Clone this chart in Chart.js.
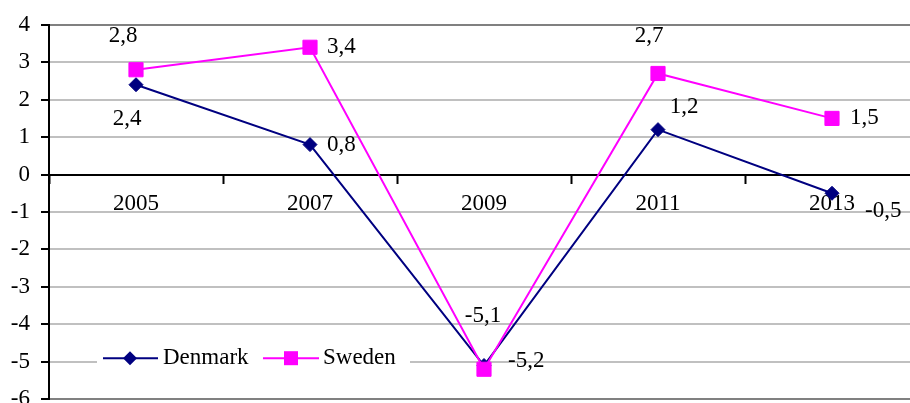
<!DOCTYPE html>
<html>
<head>
<meta charset="utf-8">
<style>
html,body{margin:0;padding:0;background:#fff;overflow:hidden;}
#wrap{width:930px;height:424px;}
</style>
<script src="https://cdn.jsdelivr.net/npm/chart.js@4.4.1/dist/chart.umd.min.js"></script>
</head>
<body>
<div id="wrap"><canvas id="c" width="930" height="424"></canvas></div>
<script>
const categories = ['2005', '2007', '2009', '2011', '2013'];
const denmark = [2.4, 0.8, -5.1, 1.2, -0.5];
const sweden = [2.8, 3.4, -5.2, 2.7, 1.5];
const seriesNames = ['Denmark', 'Sweden'];
const yTicks = [4, 3, 2, 1, 0, -1, -2, -3, -4, -5, -6];

const FONT = '"Liberation Serif", "Times New Roman", serif';
const FS = 23;
const navy = '#000080';
const magenta = '#FF00FF';

// label placement style: [dx, dy, align]
const denmarkLabelPos = [[-9, 34, 'center'], [17, 0, 'left'], [-1, -50, 'center'], [26, -23, 'center'], [33, 18, 'left']];
const swedenLabelPos = [[-13, -34, 'center'], [17, 0, 'left'], [24, -8, 'left'], [-9, -38, 'center'], [18, 0, 'left']];

const fmt = v => String(v).replace('.', ',');

const labelPlugin = {
  id: 'valLabels',
  afterDatasetsDraw(chart) {
    const ctx = chart.ctx;
    ctx.save();
    ctx.font = FS + 'px ' + FONT;
    ctx.fillStyle = '#000';
    ctx.textBaseline = 'middle';
    chart.data.datasets.forEach((ds, di) => {
      const meta = chart.getDatasetMeta(di);
      const pos = ds.labelPos;
      meta.data.forEach((pt, i) => {
        const p = pos[i];
        ctx.textAlign = p[2];
        ctx.fillText(fmt(ds.data[i]), pt.x + p[0], pt.y + p[1]);
      });
    });
    ctx.restore();
  }
};

function diamond(ctx, x, y, r) {
  ctx.beginPath();
  ctx.moveTo(x, y - r); ctx.lineTo(x + r, y); ctx.lineTo(x, y + r); ctx.lineTo(x - r, y);
  ctx.closePath(); ctx.fill();
}

const legendPlugin = {
  id: 'customLegend',
  afterDraw(chart) {
    const ctx = chart.ctx;
    const a = chart.chartArea;
    const yc = a.bottom - 41;
    const x0 = a.left;
    ctx.save();
    ctx.fillStyle = '#fff';
    ctx.fillRect(x0 + 48, yc - 14, 313, 28);
    ctx.lineWidth = 2;
    // Denmark
    ctx.strokeStyle = navy; ctx.fillStyle = navy;
    ctx.beginPath(); ctx.moveTo(x0 + 54, yc); ctx.lineTo(x0 + 109, yc); ctx.stroke();
    diamond(ctx, x0 + 81, yc, 7);
    // Sweden
    ctx.strokeStyle = magenta; ctx.fillStyle = magenta;
    ctx.beginPath(); ctx.moveTo(x0 + 214, yc); ctx.lineTo(x0 + 270, yc); ctx.stroke();
    ctx.fillRect(x0 + 242 - 7, yc - 7, 14, 14);
    ctx.fillStyle = '#000';
    ctx.font = FS + 'px ' + FONT;
    ctx.textBaseline = 'middle';
    ctx.textAlign = 'left';
    ctx.fillText(seriesNames[0], x0 + 114, yc);
    ctx.fillText(seriesNames[1], x0 + 274, yc);
    ctx.restore();
  }
};

new Chart(document.getElementById('c'), {
  type: 'line',
  data: {
    labels: categories,
    datasets: [
      {
        label: seriesNames[0], data: denmark, labelPos: denmarkLabelPos,
        borderColor: navy, backgroundColor: navy, borderWidth: 2,
        pointStyle: 'rectRot', pointRadius: 7, pointBorderWidth: 1,
        pointBackgroundColor: navy, pointBorderColor: navy, tension: 0, order: 1
      },
      {
        label: seriesNames[1], data: sweden, labelPos: swedenLabelPos,
        borderColor: magenta, backgroundColor: magenta, borderWidth: 2,
        pointStyle: 'rect', pointRadius: 10, pointBorderWidth: 1,
        pointBackgroundColor: magenta, pointBorderColor: magenta, tension: 0, order: 0
      }
    ]
  },
  options: {
    responsive: false,
    animation: false,
    devicePixelRatio: 1,
    layout: { padding: { left: 0, right: 1, top: 23, bottom: 17 } },
    plugins: { legend: { display: false }, tooltip: { enabled: false } },
    scales: {
      x: {
        position: { y: 0 },
        offset: true,
        border: { display: true, color: '#000', width: 2 },
        grid: { display: true, offset: true, drawOnChartArea: false, drawTicks: true, tickLength: 8, tickColor: '#000', tickWidth: 2 },
        ticks: { color: '#000', font: { family: FONT, size: FS }, padding: 8, maxRotation: 0, autoSkip: false }
      },
      y: {
        min: -6, max: 4,
        afterFit(s) { s.width = 49; },
        afterBuildTicks(s) { s.ticks = yTicks.map(v => ({ value: v })); },
        border: { display: true, color: '#000', width: 2 },
        grid: {
          color: c => (c.tick && (c.tick.value === 4 || c.tick.value === -6)) ? '#808080' : (c.tick && c.tick.value === 0 ? '#000' : '#c0c0c0'),
          lineWidth: 2, tickLength: 8, tickColor: '#000', tickWidth: 2
        },
        ticks: { stepSize: 1, color: '#000', font: { family: FONT, size: FS }, padding: 11 }
      }
    }
  },
  plugins: [labelPlugin, legendPlugin]
});
</script>
</body>
</html>
